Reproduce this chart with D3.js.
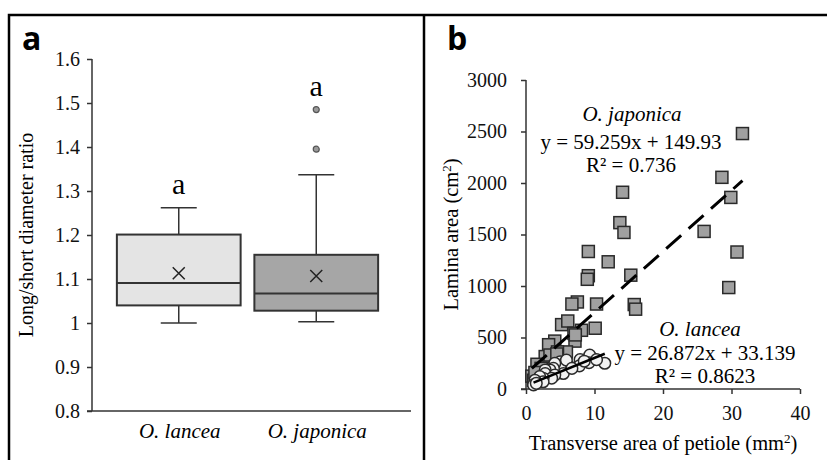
<!DOCTYPE html>
<html>
<head>
<meta charset="utf-8">
<script src="https://cdn.jsdelivr.net/npm/d3@7"></script>
<style>
  body { margin: 0; background: #fff; }
  svg { display: block; }
  .serif { font-family: "Liberation Serif", Tinos, "Times New Roman", Times, "DejaVu Serif", serif; }
</style>
</head>
<body>
<svg width="827" height="460"></svg>
<script>
// panel a: box plot values
var groups = ["O. lancea", "O. japonica"]
var whiskerLow = [1.0, 1.003]
var q1 = [1.04, 1.028]
var median = [1.091, 1.067]
var q3 = [1.201, 1.155]
var whiskerHigh = [1.262, 1.337]
var means = [1.113, 1.107]
var outliers = [[], [1.395, 1.485]]
var letters = ["a", "a"]
var boxFill = ["#e4e4e4", "#a6a6a6"]
var ratioTicks = [0.8, 0.9, 1, 1.1, 1.2, 1.3, 1.4, 1.5, 1.6]

// panel b: scatter values
var japonicaX = [31.6, 28.6, 29.9, 26.0, 30.8, 29.6, 14.1, 13.7, 14.3, 9.1, 12.0, 9.1, 8.95, 15.3, 15.8, 16.0,
  10.3, 7.5, 6.7, 10.1, 5.2, 6.1, 8.1, 7.0, 7.15, 4.2, 3.3, 5.9, 4.6, 4.0, 2.8, 1.6, 0.85, 1.1, 2.2, 3.5, 7.2, 4.5, 1.3]
var japonicaY = [2480, 2055, 1860, 1530, 1330, 985, 1910, 1615, 1520, 1335, 1235, 1100, 1065, 1105, 820, 775,
  825, 845, 825, 590, 625, 660, 570, 540, 465, 465, 430, 360, 360, 290, 315, 240, 125, 85, 200, 330, 525, 340, 160]
var lanceaX = [11.5, 9.3, 9.2, 10.3, 7.9, 7.8, 6.4, 5.0, 5.0, 5.45, 5.9, 4.2, 4.0, 3.5, 2.8, 2.8, 4.2, 3.75,
  2.5, 2.0, 2.5, 1.3, 1.1, 1.5, 6.7, 8.5]
var lanceaY = [250, 330, 255, 285, 285, 225, 215, 265, 215, 150, 280, 250, 200, 185, 185, 150, 135, 105,
  105, 120, 70, 85, 40, 55, 200, 270]
var slopes = { japonica: 59.259, lancea: 26.872 }
var intercepts = { japonica: 149.93, lancea: 33.139 }
var japonicaLabels = ["O. japonica", "y = 59.259x + 149.93", "R² = 0.736"]
var lanceaLabels = ["O. lancea", "y = 26.872x + 33.139", "R² = 0.8623"]
var areaTicksX = [0, 10, 20, 30, 40]
var areaTicksY = [0, 500, 1000, 1500, 2000, 2500, 3000]

var ink = "#333"

var svg = d3.select("svg")

// frame
svg.append("path")
  .attr("d", "M9,460V15H827M424,15V460")
  .attr("fill", "none")
  .attr("stroke", "#000")
  .attr("stroke-width", 2.5)

svg.selectAll("text.panel")
  .data([["a", 22], ["b", 447]])
  .join("text")
  .attr("class", "panel")
  .attr("x", d => d[1])
  .attr("y", 50)
  .attr("font-family", "Open Sans, DejaVu Sans, sans-serif")
  .attr("font-weight", "bold")
  .attr("font-size", 32)
  .text(d => d[0])

// ---------- panel a ----------
var ya = d3.scaleLinear().domain([0.8, 1.6]).range([411, 59])
var xa = d3.scaleBand().domain(groups).range([110, 385])
var bw = xa.bandwidth() * 0.9

var ga = svg.append("g")

ga.append("g")
  .attr("transform", "translate(92,0)")
  .call(d3.axisLeft(ya).tickValues(ratioTicks).tickSize(5).tickPadding(7).tickFormat(d3.format("~g")))
  .call(g => g.selectAll("path,line").attr("stroke", ink).attr("stroke-width", 1.5))
  .call(g => g.select(".domain").attr("d", "M0,59V411"))
  .call(g => g.attr("font-family", null).attr("font-size", 20).attr("class", "serif"))
  .call(g => g.selectAll("text").attr("fill", "#111"))

ga.append("line")
  .attr("x1", 87).attr("x2", 411)
  .attr("y1", ya(0.8)).attr("y2", ya(0.8))
  .attr("stroke", ink).attr("stroke-width", 1.5)

ga.append("text")
  .attr("class", "serif")
  .attr("transform", `translate(33,${(ya(0.8) + ya(1.6)) / 2}) rotate(-90)`)
  .attr("text-anchor", "middle")
  .attr("font-size", 20)
  .text("Long/short diameter ratio")

var boxes = ga.selectAll("g.box")
  .data(groups)
  .join("g")
  .attr("class", "box")
  .attr("transform", d => `translate(${xa(d) + xa.bandwidth() / 2},0)`)

boxes.append("line")
  .attr("y1", (d, i) => ya(whiskerHigh[i])).attr("y2", (d, i) => ya(q3[i]))
  .attr("stroke", ink).attr("stroke-width", 1.5)
boxes.append("line")
  .attr("y1", (d, i) => ya(whiskerLow[i])).attr("y2", (d, i) => ya(q1[i]))
  .attr("stroke", ink).attr("stroke-width", 1.5)
boxes.selectAll("line.cap")
  .data((d, i) => [whiskerHigh[i], whiskerLow[i]])
  .join("line")
  .attr("class", "cap")
  .attr("x1", -18).attr("x2", 18)
  .attr("y1", v => ya(v)).attr("y2", v => ya(v))
  .attr("stroke", ink).attr("stroke-width", 1.5)

boxes.append("rect")
  .attr("x", -bw / 2)
  .attr("width", bw)
  .attr("y", (d, i) => ya(q3[i]))
  .attr("height", (d, i) => ya(q1[i]) - ya(q3[i]))
  .attr("fill", (d, i) => boxFill[i])
  .attr("stroke", ink).attr("stroke-width", 2)

boxes.append("line")
  .attr("x1", -bw / 2).attr("x2", bw / 2)
  .attr("y1", (d, i) => ya(median[i])).attr("y2", (d, i) => ya(median[i]))
  .attr("stroke", ink).attr("stroke-width", 2)

boxes.append("path")
  .attr("d", (d, i) => {
    var y = ya(means[i])
    return `M-6,${y - 6}L6,${y + 6}M-6,${y + 6}L6,${y - 6}`
  })
  .attr("stroke", "#222").attr("stroke-width", 1.5)

boxes.selectAll("circle")
  .data((d, i) => outliers[i])
  .join("circle")
  .attr("cy", v => ya(v))
  .attr("r", 3)
  .attr("fill", "#9a9a9a")
  .attr("stroke", "#555")
  .attr("stroke-width", 1.2)

boxes.append("text")
  .attr("class", "serif")
  .attr("y", (d, i) => ya(d3.max([whiskerHigh[i], ...outliers[i]])) - 14)
  .attr("text-anchor", "middle")
  .attr("font-size", 30)
  .text((d, i) => letters[i])

ga.selectAll("text.cat")
  .data(groups)
  .join("text")
  .attr("class", "serif")
  .attr("x", d => xa(d) + xa.bandwidth() / 2 + 1)
  .attr("y", 438)
  .attr("text-anchor", "middle")
  .attr("font-size", 21)
  .attr("font-style", "italic")
  .text(d => d)

// ---------- panel b ----------
var xb = d3.scaleLinear().domain([0, 40]).range([526, 800])
var yb = d3.scaleLinear().domain([0, 3000]).range([389, 80])

var gb = svg.append("g")

gb.append("g")
  .attr("transform", `translate(0,${yb(0)})`)
  .call(d3.axisBottom(xb).tickValues(areaTicksX).tickSize(5).tickPadding(12))
  .call(g => g.select(".domain").attr("d", `M${xb(0) - 5},0H${xb(40)}`))
  .call(g => g.selectAll("path,line").attr("stroke", ink).attr("stroke-width", 1.5))
  .call(g => g.attr("font-family", null).attr("font-size", 20).attr("class", "serif"))
  .call(g => g.selectAll("text").attr("fill", "#111"))

gb.append("g")
  .attr("transform", `translate(${xb(0)},0)`)
  .call(d3.axisLeft(yb).tickValues(areaTicksY).tickSize(5).tickPadding(14).tickFormat(d3.format("d")))
  .call(g => g.select(".domain").attr("d", `M0,${yb(3000)}V${yb(0)}`))
  .call(g => g.selectAll("path,line").attr("stroke", ink).attr("stroke-width", 1.5))
  .call(g => g.attr("font-family", null).attr("font-size", 20).attr("class", "serif"))
  .call(g => g.selectAll("text").attr("fill", "#111"))

var xt = gb.append("text")
  .attr("class", "serif")
  .attr("x", (xb(0) + xb(40)) / 2)
  .attr("y", 450)
  .attr("text-anchor", "middle")
  .attr("font-size", 20.5)
xt.append("tspan").text("Transverse area of petiole (mm")
xt.append("tspan").attr("dy", -7).attr("font-size", 13).text("2")
xt.append("tspan").attr("dy", 7).text(")")

var yt = gb.append("text")
  .attr("class", "serif")
  .attr("transform", `translate(458,${(yb(0) + yb(3000)) / 2}) rotate(-90)`)
  .attr("text-anchor", "middle")
  .attr("font-size", 20.5)
yt.append("tspan").text("Lamina area (cm")
yt.append("tspan").attr("dy", -7).attr("font-size", 13).text("2")
yt.append("tspan").attr("dy", 7).text(")")

var japonica = japonicaX.map((x, i) => [x, japonicaY[i]])
var lancea = lanceaX.map((x, i) => [x, lanceaY[i]])

gb.append("g")
  .selectAll("rect")
  .data(japonica)
  .join("rect")
  .attr("x", d => xb(d[0]) - 6)
  .attr("y", d => yb(d[1]) - 6)
  .attr("width", 12).attr("height", 12)
  .attr("fill", "#a0a0a0")
  .attr("stroke", "#2a2a2a")
  .attr("stroke-width", 1.5)

var fit = (name, ext) => ext.map(x => [x, slopes[name] * x + intercepts[name]])
var line = d3.line().x(d => xb(d[0])).y(d => yb(d[1]))

gb.append("path")
  .attr("d", line(fit("japonica", d3.extent(japonicaX))))
  .attr("fill", "none")
  .attr("stroke", "#000")
  .attr("stroke-width", 3)
  .attr("stroke-dasharray", "20,10")

gb.append("g")
  .selectAll("circle")
  .data(lancea)
  .join("circle")
  .attr("cx", d => xb(d[0]))
  .attr("cy", d => yb(d[1]))
  .attr("r", 5.8)
  .attr("fill", "#f2f2f2")
  .attr("stroke", "#2a2a2a")
  .attr("stroke-width", 1.5)

gb.append("path")
  .attr("d", line(fit("lancea", d3.extent(lanceaX))))
  .attr("fill", "none")
  .attr("stroke", "#000")
  .attr("stroke-width", 2.5)

function labelBlock(lines, cx, baselines) {
  gb.append("g")
    .selectAll("text")
    .data(lines)
    .join("text")
    .attr("class", "serif")
    .attr("x", (d, i) => cx[i])
    .attr("y", (d, i) => baselines[i])
    .attr("text-anchor", "middle")
    .attr("font-size", 21)
    .attr("font-style", (d, i) => i === 0 ? "italic" : "normal")
    .text(d => d)
}
labelBlock(japonicaLabels, [632, 631, 631], [121, 149, 172])
labelBlock(lanceaLabels, [700, 705, 705], [336, 360, 383])
</script>
</body>
</html>
